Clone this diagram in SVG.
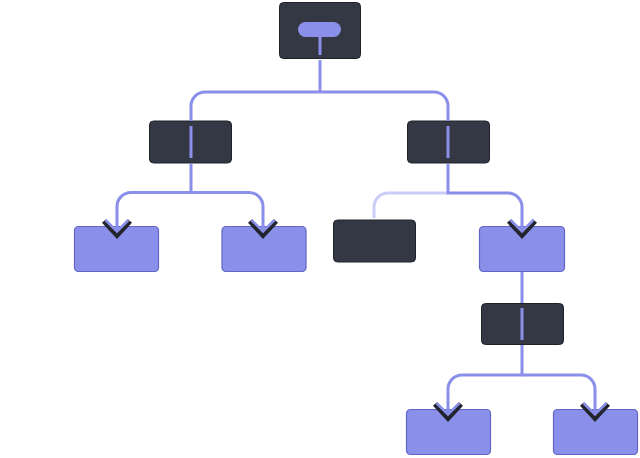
<svg xmlns="http://www.w3.org/2000/svg" width="640" height="458" viewBox="0 0 640 458">
<style>
.dark{fill:#343844;stroke:#1f222a;stroke-width:1}
.leaf{fill:#8a8fe9;stroke:#6065c6;stroke-width:1.2}
.conn{fill:none;stroke:#8a8fea;stroke-width:3}
.faded{fill:none;stroke:#cbcdf7;stroke-width:3}
.stem{stroke:#8a8fea;stroke-width:3}
</style>
<defs>
<marker id="chev" markerUnits="userSpaceOnUse" viewBox="-20 -20 40 40" markerWidth="40" markerHeight="40" refX="0" refY="0" orient="auto" overflow="visible">
<path d="M-10,-13 L4,0 L-10,13" fill="none" stroke="#22252d" stroke-width="5.5"/>
<path d="M-11,-11.5 L0.5,0 L-11,11.5" fill="none" stroke="#8a8fea" stroke-width="2.5"/>
</marker>
</defs>
<rect width="640" height="458" fill="#ffffff"/>
<g id="nodes">
<g id="root">
<rect class="dark" x="279.5" y="2.5" width="81" height="56" rx="4"/>
<rect x="298" y="22" width="43" height="15" rx="7.5" fill="#8a8fea"/>
<line class="stem" x1="320" y1="36" x2="320" y2="55"/>
</g>
<g id="mid-left">
<rect class="dark" x="149.5" y="121" width="82" height="42" rx="4"/>
<line class="stem" x1="191" y1="126" x2="191" y2="158"/>
</g>
<g id="mid-right">
<rect class="dark" x="407.5" y="121" width="82" height="42" rx="4"/>
<line class="stem" x1="448" y1="126" x2="448" y2="158"/>
</g>
<g id="leaf-1"><rect class="leaf" x="74.5" y="226.5" width="84" height="45" rx="4"/></g>
<g id="leaf-2"><rect class="leaf" x="222" y="226.5" width="84" height="45" rx="4"/></g>
<g id="dark-3"><rect class="dark" x="333.5" y="220" width="82" height="42" rx="4"/></g>
<g id="leaf-4"><rect class="leaf" x="479.5" y="226.5" width="85" height="45" rx="4"/></g>
<g id="mid-lower">
<rect class="dark" x="481.5" y="303.5" width="82" height="41" rx="4"/>
<line class="stem" x1="522" y1="308" x2="522" y2="340"/>
</g>
<g id="leaf-5"><rect class="leaf" x="406.5" y="409.5" width="84" height="45" rx="4"/></g>
<g id="leaf-6"><rect class="leaf" x="553.5" y="409.5" width="84" height="45" rx="4"/></g>
</g>
<g id="connectors">
<path class="conn" d="M320,60 V92"/>
<path class="conn" d="M320,92 H205 A14,14 0 0 0 191,106 V121"/>
<path class="conn" d="M320,92 H434 A14,14 0 0 1 448,106 V121"/>
<path class="conn" d="M191,164 V192.5 H131 A14,14 0 0 0 117,206.5 V231" marker-end="url(#chev)"/>
<path class="conn" d="M191,192.5 H249 A14,14 0 0 1 263,206.5 V231" marker-end="url(#chev)"/>
<path class="faded" d="M448,193 H388 A14,14 0 0 0 374,207 V218"/>
<path class="conn" d="M448,164 V193 H508 A14,14 0 0 1 522,207 V231" marker-end="url(#chev)"/>
<path class="conn" d="M522,272 V303"/>
<path class="conn" d="M522,345 V375 H462 A14,14 0 0 0 448,389 V414" marker-end="url(#chev)"/>
<path class="conn" d="M522,375 H581 A14,14 0 0 1 595,389 V414" marker-end="url(#chev)"/>
</g>
</svg>
